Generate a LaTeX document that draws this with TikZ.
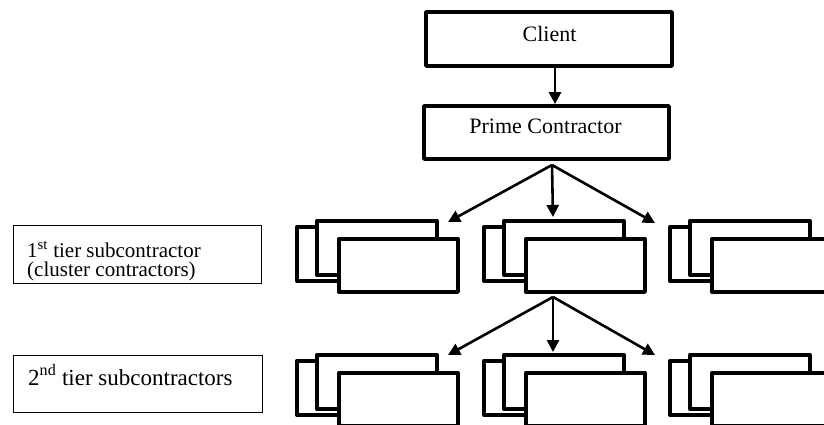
\documentclass[tikz,border=0pt]{standalone}
\usepackage{fontspec}
\setmainfont{Liberation Serif}
\usetikzlibrary{arrows.meta}
\newcommand\stackgrp[3]{%
  \node[bigbox,anchor=north west,minimum width=120pt,minimum height=54pt] (#1b) at (#2-18,#3+8) {};
  \node[bigbox,anchor=north west,minimum width=120pt,minimum height=54pt] (#1m) at (#2+2,#3+2) {};
  \node[bigbox,anchor=north west,minimum width=119pt,minimum height=53pt] (#1f) at (#2+24,#3+20) {};
}
\begin{document}
\begin{tikzpicture}[x=1pt,y=-1pt,
  bigbox/.style={draw,line width=3.8pt,line join=round,fill=white,inner sep=0pt},
  lblbox/.style={draw,line width=0.9pt,inner sep=0pt},
  conn/.style={line width=2.6pt,-{Triangle[length=12pt,width=12pt]}},
  bigtext/.style={inner sep=0pt,anchor=base,font=\fontsize{22}{26}\selectfont},
  lbltext/.style={inner sep=0pt,anchor=base west}
]
\useasboundingbox (0,0) rectangle (824,425);
\fill[white] (0,0) rectangle (824,425);

% top boxes
\node[bigbox,minimum width=246pt,minimum height=54pt] (client) at (549,39) {};
\node[bigtext] (clienttxt) at (549.5,42) {Client};
\node[bigbox,minimum width=245pt,minimum height=53pt] (prime) at (546.5,132.5) {};
\node[bigtext] (primetxt) at (545.5,134) {Prime Contractor};

\draw[conn] ([xshift=6pt]client.south) -- ([xshift=8.5pt]prime.north);

% stacked groups
\stackgrp{a}{313}{217}
\stackgrp{b}{500}{217}
\stackgrp{c}{686}{217}
\stackgrp{d}{313}{351}
\stackgrp{e}{500}{351}
\stackgrp{f}{686}{351}

% fan arrows row 1
\coordinate (fork1) at (552,165);
\coordinate (ta) at (448,222);
\coordinate (tb) at (553,217);
\coordinate (tc) at (655,223);
\draw[conn] (fork1) -- (ta);
\draw[conn] (fork1) -- (tb);
\draw[conn] (fork1) -- (tc);

% fan arrows row 2
\coordinate (fork2) at (553,297);
\coordinate (td) at (448,355);
\coordinate (te) at (553,352);
\coordinate (tf) at (655,355);
\draw[conn] (fork2) -- (td);
\draw[conn] (fork2) -- (te);
\draw[conn] (fork2) -- (tf);

% labels
\node[lblbox,anchor=north west,minimum width=248pt,minimum height=58pt] (lab1) at (13,225) {};
\node[lbltext,font=\fontsize{21}{22}\selectfont] (lab1a) at (27,257) {1\textsuperscript{st} tier subcontractor};
\node[lbltext,font=\fontsize{21}{22}\selectfont] (lab1b) at (27,276) {(cluster contractors)};
\node[lblbox,anchor=north west,minimum width=249pt,minimum height=57pt] (lab2) at (13,355) {};
\node[lbltext,font=\fontsize{23}{26}\selectfont] (lab2a) at (28,385) {2\textsuperscript{nd} tier subcontractors};
\end{tikzpicture}
\end{document}
